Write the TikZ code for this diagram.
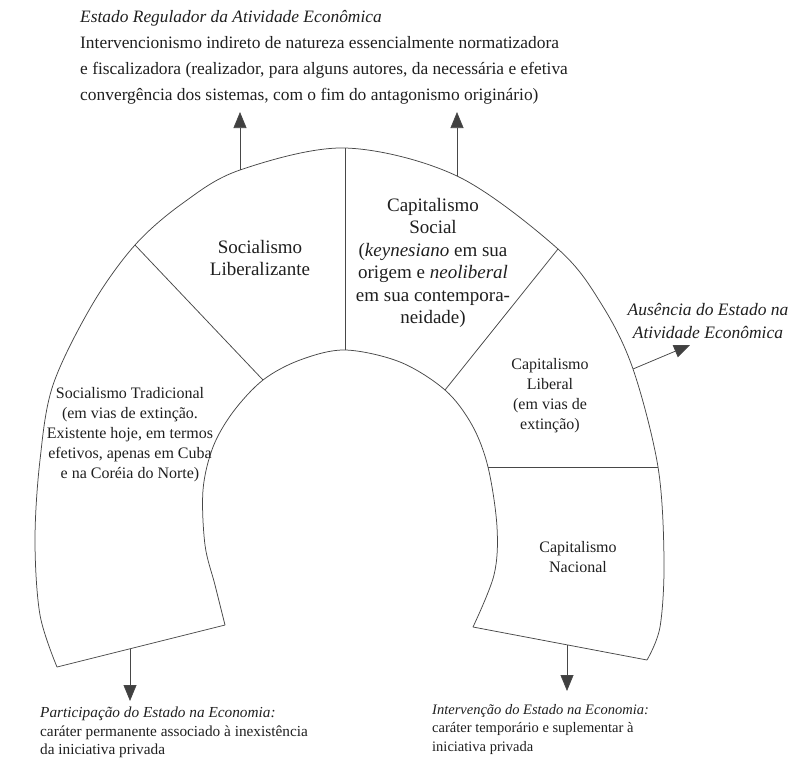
\documentclass[tikz,border=0pt]{standalone}
\usepackage{fontspec}
\setmainfont{Liberation Serif}
\usetikzlibrary{arrows.meta}
\tikzset{
  ln/.style={draw=black!72, line width=0.75pt},
  arr/.style={ln, -{Triangle[width=13pt,length=16pt,fill=black!75]}},
  bigtxt/.style={font=\fontsize{19}{22.5}\selectfont, align=center, inner sep=0pt, text=black!88},
  smalltxt/.style={font=\fontsize{16}{20}\selectfont, align=center, inner sep=0pt, text=black!88},
  toptxt/.style={font=\fontsize{17.4}{26}\selectfont, align=left, inner sep=0pt, text=black!88},
  bottxt/.style={font=\fontsize{14.5}{18.5}\selectfont, align=left, inner sep=0pt, text=black!88},
  sidetxt/.style={font=\fontsize{17.5}{23}\selectfont\itshape, align=center, inner sep=0pt, text=black!88},
}
\begin{document}
\begin{tikzpicture}[x=1pt,y=-1pt]
\useasboundingbox (0,0) rectangle (794,763);
% outer curve key points
\coordinate (oBL) at (57,667);
\coordinate (oD1) at (135,245);
\coordinate (oAL) at (240,170);
\coordinate (oTop) at (345,148);
\coordinate (oAR) at (457,176);
\coordinate (oD3) at (558,249);
\coordinate (oAA) at (633,369);
\coordinate (oD4) at (658,467);
\coordinate (oBR) at (647,660);
% inner curve key points
\coordinate (iBL) at (225,625);
\coordinate (iD1) at (263,380);
\coordinate (iTop) at (345,350);
\coordinate (iD3) at (445,390);
\coordinate (iD4) at (488,467);
\coordinate (iBR) at (473,627);
% outer and inner arcs
\draw[ln] plot[smooth, tension=0.55] coordinates {(oBL) (40,615) (35,540) (40,460) (53,385) (92,305) (oD1) (183,203) (oAL) (oTop) (oAR) (oD3) (602,305) (oAA) (oD4) (664,560) (660,627) (oBR)};
\draw[ln] plot[smooth, tension=0.55] coordinates {(iBL) (215,585) (205,545) (203,490) (213,447) (233,412) (iD1) (300,360) (iTop) (400,362) (iD3) (472,425) (iD4) (497,527) (494,575) (iBR)};
% end cuts and dividers
\draw[ln] (oBL) -- (iBL);
\draw[ln] (oBR) -- (iBR);
\draw[ln] (oD1) -- (iD1);
\draw[ln] (oTop) -- (iTop);
\draw[ln] (oD3) -- (iD3);
\draw[ln] (oD4) -- (iD4);
% arrows
\coordinate (tAL) at (240,112);
\coordinate (tAR) at (457,112);
\coordinate (tAA) at (690,345);
\coordinate (sBL) at (130,649);
\coordinate (tBL) at (130,701);
\coordinate (sBR) at (567,645);
\coordinate (tBR) at (567,691);
\draw[arr] (oAL) -- (tAL);
\draw[arr] (oAR) -- (tAR);
\draw[arr] (oAA) -- (tAA);
\draw[arr] (sBL) -- (tBL);
\draw[arr] (sBR) -- (tBR);
% texts
\node[toptxt, anchor=north west] (top) at (80,10) {\textit{Estado Regulador da Atividade Econômica}\\Intervencionismo indireto de natureza essencialmente normatizadora\\e fiscalizadora (realizador, para alguns autores, da necessária e efetiva\\convergência dos sistemas, com o fim do antagonismo originário)};
\node[bigtxt] (sl) at (260,258) {Socialismo\\Liberalizante};
\node[bigtxt] (cs) at (433,263) {Capitalismo\\Social\\(\textit{keynesiano} em sua\\origem e \textit{neoliberal}\\em sua contempora-\\neidade)};
\node[smalltxt] (cl) at (550,396) {Capitalismo\\Liberal\\(em vias de\\extinção)};
\node[smalltxt] (st) at (130,435) {Socialismo Tradicional\\(em vias de extinção.\\Existente hoje, em termos\\efetivos, apenas em Cuba\\e na Coréia do Norte)};
\node[smalltxt] (cn) at (578,557) {Capitalismo\\Nacional};
\node[sidetxt] (aus) at (708,321) {Ausência do Estado na\\Atividade Econômica};
\node[bottxt, font=\fontsize{15.3}{18.5}\selectfont, anchor=north west] (pe) at (40,707) {\textit{Participação do Estado na Economia:}\\caráter permanente associado à inexistência\\da iniciativa privada};
\node[bottxt, anchor=north west] (ie) at (432,704) {\textit{Intervenção do Estado na Economia:}\\caráter temporário e suplementar à\\iniciativa privada};
\end{tikzpicture}
\end{document}
